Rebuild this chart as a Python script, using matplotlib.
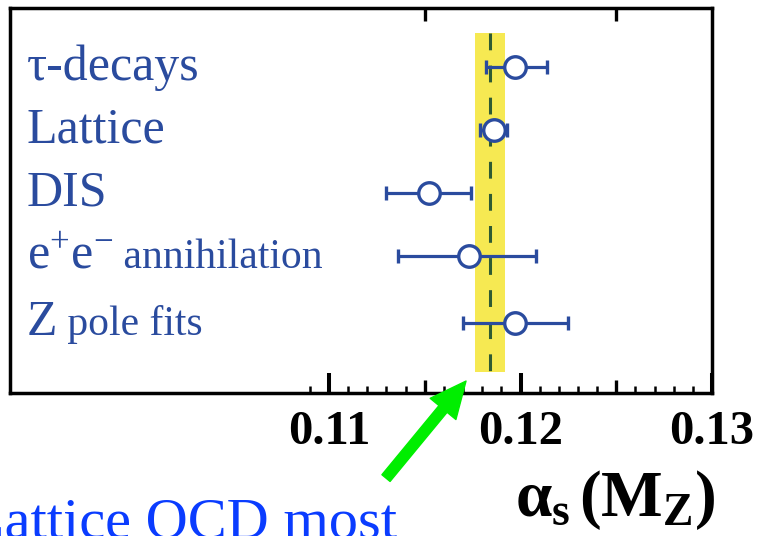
import numpy as np
import matplotlib
matplotlib.use('Agg')
import matplotlib.pyplot as plt
from matplotlib.ticker import FixedLocator, NullLocator

plt.rcParams['font.family'] = ['Liberation Serif', 'DejaVu Serif']
plt.rcParams['mathtext.fontset'] = 'custom'
plt.rcParams['mathtext.rm'] = 'Liberation Serif'
plt.rcParams['mathtext.it'] = 'Liberation Serif:italic'
plt.rcParams['mathtext.bf'] = 'Liberation Serif:bold'

# alpha_s(MZ) measurements, top to bottom
processes = ['τ-decays', 'Lattice', 'DIS', r'e$^{+}$e$^{-}$', 'Z']
process_suffix = ['', '', '', ' annihilation', ' pole fits']
alpha_s = [0.1197, 0.1186, 0.1152, 0.1173, 0.1197]
err_low = [0.0015, 0.0007, 0.0022, 0.0037, 0.0027]
err_high = [0.0017, 0.0007, 0.0022, 0.0035, 0.0028]

# world average band
world_avg = 0.1184
world_err = 0.0008

major_ticks = [0.11, 0.12, 0.13]
major_labels = ['0.11', '0.12', '0.13']
mid_ticks = [0.115, 0.125]

note_text = 'Lattice QCD most'

# layout
row_y = [5, 4, 3, 2, 0.94]
blue = '#2a4b9e'

fig = plt.figure(figsize=(7.61, 5.36), dpi=100)
ax = fig.add_axes([0.01314, 0.26679, 0.92247, 0.71828])
ax.set_xlim(0.09334, 0.13)
ax.set_ylim(-0.175, 5.937)

# yellow band + dashed central value
ax.fill_betweenx([0.159, 5.54], world_avg - world_err, world_avg + world_err,
                 color='#f6e952', lw=0, zorder=1)
ax.plot([world_avg, world_avg], [5.54, 0.159], color='#2f5b33', lw=2.2,
        dashes=(5.5, 5.0), zorder=2)

# measurements
ax.errorbar(alpha_s, row_y, xerr=[err_low, err_high], fmt='o', color=blue,
            mfc='white', mec=blue, ms=15.5, mew=2.4, elinewidth=2.3,
            capsize=5.2, capthick=2.6, zorder=3)

# labels on the left
for name, suffix, y in zip(processes, process_suffix, row_y):
    t = ax.annotate(name, xy=(0.024, y), xycoords=('axes fraction', 'data'),
                    xytext=(0, -9), textcoords='offset points',
                    va='baseline', ha='left', fontsize=36, color=blue)
    if suffix:
        ax.annotate(suffix, xy=(1, y), xycoords=(t, 'data'),
                    xytext=(0, -9), textcoords='offset points',
                    va='baseline', ha='left', fontsize=30, color=blue)

# axis ticks
ax.xaxis.set_major_locator(FixedLocator(major_ticks))
ax.xaxis.set_minor_locator(FixedLocator(np.arange(0.109, 0.1295, 0.001)))
ax.set_xticklabels(major_labels, fontweight='bold')
ax.tick_params(which='major', direction='in', top=True, bottom=True,
               left=False, right=False, labelleft=False, length=14.5,
               width=2.9, labelsize=35, pad=12)
ax.tick_params(which='minor', direction='in', top=True, bottom=True,
               left=False, right=False, length=5, width=1.8)
ax.set_yticks([])
for sp in ax.spines.values():
    sp.set_linewidth(2.5)

# medium ticks at 0.005 steps
tw = ax.twiny()
tw.set_xlim(ax.get_xlim())
tw.xaxis.set_major_locator(FixedLocator(mid_ticks))
tw.xaxis.set_minor_locator(NullLocator())
tw.tick_params(direction='in', top=True, bottom=True, labeltop=False,
               labelbottom=False, length=9.5, width=2.4)
for sp in tw.spines.values():
    sp.set_visible(False)

ax.set_xlabel(r'$\mathbf{\alpha_s\,(M_Z)}$', fontsize=47)
ax.xaxis.set_label_coords(0.863, -0.195)

# arrow and note below the plot
ax.annotate('', xy=(0.6496, 0.031), xycoords='axes fraction',
            xytext=(0.5356, -0.221), textcoords='axes fraction',
            arrowprops=dict(arrowstyle='simple,head_length=1.3,head_width=1.2,tail_width=0.38',
                            color='#00ee00', mutation_scale=20, shrinkA=0, shrinkB=0),
            annotation_clip=False)
fig.text(397 / 761, -2 / 536, note_text, ha='right', va='baseline',
         fontsize=42, color='#0a3cff')

fig.savefig('out.png', dpi=100)
